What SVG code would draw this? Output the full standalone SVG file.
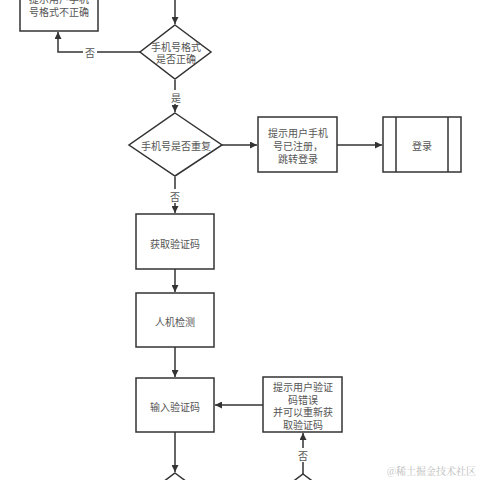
<svg xmlns="http://www.w3.org/2000/svg" width="480" height="480" viewBox="0 0 480 480">
<style>
.n{fill:#fff;stroke:#333;stroke-width:1.5}
.c{fill:none;stroke:#333;stroke-width:1.5}
text{font-family:"Noto Sans CJK SC","Noto Sans",sans-serif;font-size:10px;fill:#555;text-anchor:middle;dominant-baseline:central}
.w{font-family:"Noto Serif CJK SC","Noto Sans CJK SC",serif;font-size:10px;fill:#bbb;text-anchor:end}
</style>
<defs>
<marker id="a" viewBox="0 0 10 10" refX="10" refY="5" markerWidth="7" markerHeight="7" markerUnits="userSpaceOnUse" orient="auto">
<path d="M0,0 L10,5 L0,10 z" fill="#333"/>
</marker>
</defs>
<rect width="480" height="480" fill="#fff"/>
<g id="connectors">
<path class="c" d="M175,0 V24" marker-end="url(#a)"/>
<path class="c" d="M140,52 H58 V32" marker-end="url(#a)"/>
<path class="c" d="M175,80 V112" marker-end="url(#a)"/>
<path class="c" d="M222,145 H257" marker-end="url(#a)"/>
<path class="c" d="M337,145 H382" marker-end="url(#a)"/>
<path class="c" d="M175,177 V213" marker-end="url(#a)"/>
<path class="c" d="M175,269 V292" marker-end="url(#a)"/>
<path class="c" d="M175,347 V377" marker-end="url(#a)"/>
<path class="c" d="M263,405 H215" marker-end="url(#a)"/>
<path class="c" d="M175,432 V472" marker-end="url(#a)"/>
<path class="c" d="M303,474 V433" marker-end="url(#a)"/>
<rect x="83" y="45" width="14" height="14" fill="#fff"/>
<text x="90" y="52">否</text>
<rect x="169" y="90" width="14" height="14" fill="#fff"/>
<text x="176" y="97">是</text>
<rect x="168" y="189" width="14" height="14" fill="#fff"/>
<text x="175" y="196">否</text>
<rect x="296" y="448" width="14" height="14" fill="#fff"/>
<text x="303" y="455">否</text>
</g>
<g id="n1">
<rect class="n" x="20" y="-20" width="78" height="51"/>
<text x="59" y="-2">提示用户手机<tspan x="59" dy="13">号格式不正确</tspan></text>
</g>
<g id="d1">
<polygon class="n" points="175,25 211,52 175,79 140,52"/>
<text x="176" y="46">手机号格式<tspan x="176" dy="12">是否正确</tspan></text>
</g>
<g id="d2">
<polygon class="n" points="175,113 222,145 175,176 129,145"/>
<text x="176" y="145">手机号是否重复</text>
</g>
<g id="n2">
<rect class="n" x="258" y="117" width="79" height="55"/>
<text x="298" y="132">提示用户手机<tspan x="298" dy="13">号已注册，</tspan><tspan x="298" dy="13">跳转登录</tspan></text>
</g>
<g id="n3">
<rect class="n" x="383" y="117" width="78" height="55"/>
<path class="c" d="M396,117 V172 M448,117 V172"/>
<text x="422" y="145">登录</text>
</g>
<g id="n4">
<rect class="n" x="136" y="214" width="78" height="55"/>
<text x="175" y="243">获取验证码</text>
</g>
<g id="n5">
<rect class="n" x="136" y="293" width="78" height="54"/>
<text x="175" y="321">人机检测</text>
</g>
<g id="n6">
<rect class="n" x="136" y="378" width="78" height="54"/>
<text x="175" y="406">输入验证码</text>
</g>
<g id="n7">
<rect class="n" x="263" y="377" width="79" height="55"/>
<text x="303" y="386">提示用户验证<tspan x="303" dy="12.7">码错误</tspan><tspan x="303" dy="12.6">并可以重新获</tspan><tspan x="303" dy="12.7">取验证码</tspan></text>
</g>
<g id="d3">
<polygon class="n" points="175,473 215,503 175,533 135,503"/>
</g>
<g id="d4">
<polygon class="n" points="303,474 343,504 303,534 263,504"/>
</g>
<text class="w" x="476" y="470">@稀土掘金技术社区</text>
</svg>
